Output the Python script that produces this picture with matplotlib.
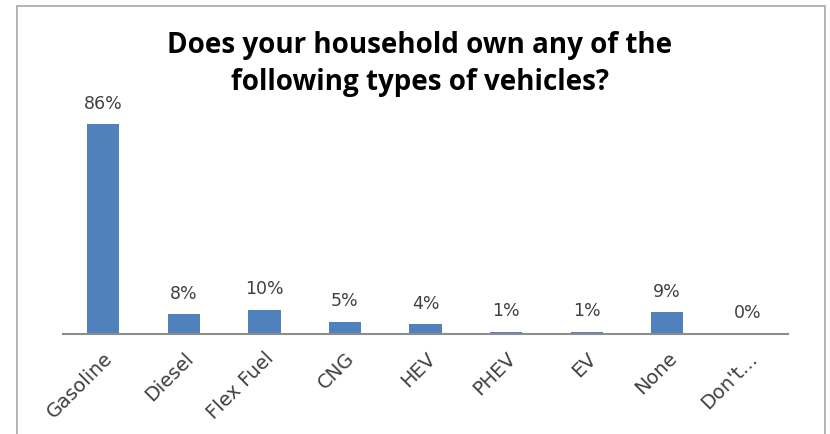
import matplotlib.pyplot as plt
from matplotlib.patches import Rectangle

categories = ['Gasoline', 'Diesel', 'Flex Fuel', 'CNG', 'HEV', 'PHEV', 'EV', 'None', "Don't..."]
shares = [86, 8, 10, 5, 4, 1, 1, 9, 0.4]

bar_color = '#4F81BD'
text_color = '#404040'

plt.rcParams['font.family'] = ['DejaVu Sans']

fig = plt.figure(figsize=(8.3, 4.35), dpi=100)
fig.patch.set_facecolor('white')

# chart frame
fig.add_artist(Rectangle((17 / 830, -0.1), (825 - 17) / 830, (435 - 7) / 435 + 0.1,
                         transform=fig.transFigure, fill=False,
                         edgecolor='#A6A6A6', linewidth=1.2))

ax = fig.add_axes([63 / 830, 100 / 435, 725 / 830, 244 / 435])
x = range(len(categories))
bars = ax.bar(x, shares, width=0.4, color=bar_color)

for b, v in zip(bars, shares):
    ax.annotate(f'{v:.0f}%', (b.get_x() + b.get_width() / 2, v),
                xytext=(0, 9), textcoords='offset points',
                ha='center', va='bottom', fontsize=12.5, color=text_color)

ax.set_xlim(-0.5, len(categories) - 0.5)
ax.set_ylim(0, 100)
ax.set_xticks(list(x))
ax.set_xticklabels(categories, rotation=45, ha='right', rotation_mode='anchor',
                   fontsize=14, color=text_color)
ax.tick_params(axis='x', length=0, pad=10)
ax.set_yticks([])
for side in ['top', 'right', 'left']:
    ax.spines[side].set_visible(False)
ax.spines['bottom'].set_color('#8C8C8C')
ax.spines['bottom'].set_linewidth(1.5)

fig.text(420 / 830, 1 - 64 / 435,
         'Does your household own any of the\nfollowing types of vehicles?',
         ha='center', va='center', fontsize=20, fontweight='bold',
         family='Open Sans', linespacing=1.38, color='black')

fig.savefig('out.png', dpi=100)
